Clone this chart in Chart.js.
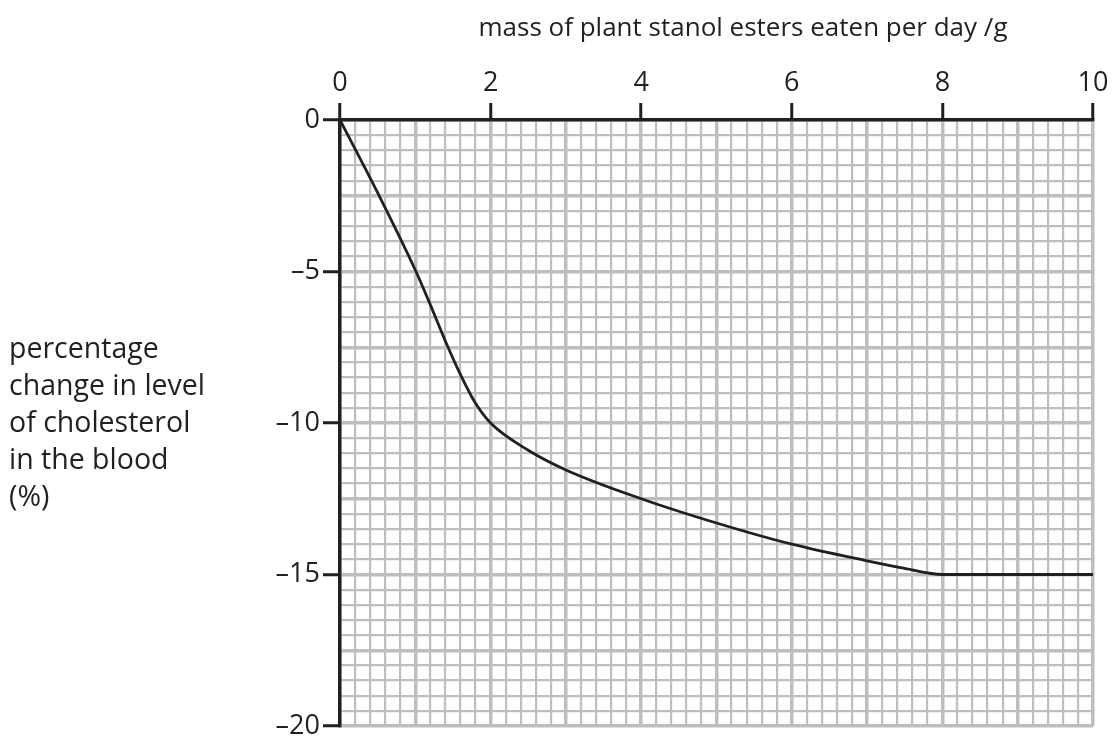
<!DOCTYPE html>
<html>
<head>
<meta charset="utf-8">
<script src="https://cdn.jsdelivr.net/npm/chart.js@4"></script>
<style>
  body { margin: 0; background: #fff; }
  #wrap { width: 1112px; height: 736px; }
</style>
</head>
<body>
<div id="wrap"><canvas id="chart" width="1112" height="736"></canvas></div>
<script>
// data
const massEaten = [0, 0.5, 1, 1.2, 1.4, 1.6, 1.8, 2, 2.5, 3, 4, 5, 6, 7, 7.5, 8, 9, 10];
const cholesterolChange = [0, -2.4, -4.95, -6.1, -7.3, -8.4, -9.35, -10, -10.9, -11.55, -12.5, -13.3, -14, -14.55, -14.8, -15, -15, -15];

const xTickLabels = [0, 2, 4, 6, 8, 10];
const yTickLabels = [0, -5, -10, -15, -20];

const xTitle = 'mass of plant stanol esters eaten per day /g';
const yTitle = ['percentage', 'change in level', 'of cholesterol', 'in the blood', '(%)'];

const FONT = '"Open Sans", "Noto Sans", sans-serif';
const INK = '#231f20';
const GRID = '#bcbec0';

// graph paper lines: every 0.2 across, every 0.5 down
function gridTicks(min, max, step) {
  let out = [];
  let n = Math.round((max - min) / step);
  for (let i = 0; i <= n; i++) out.push({ value: +(min + i * step).toFixed(2) });
  return out;
}

function isMajor(v, every) {
  return Math.abs(v / every - Math.round(v / every)) < 1e-6;
}

function fmt(v) {
  return v < 0 ? '\u2013' + Math.abs(v) : String(v);
}

const titlesPlugin = {
  id: 'titles',
  afterDraw(chart) {
    let ctx = chart.ctx;
    ctx.save();
    ctx.fillStyle = INK;
    ctx.textBaseline = 'middle';
    ctx.font = '26px ' + FONT;
    ctx.textAlign = 'center';
    ctx.fillText(xTitle, 743, 29);
    ctx.font = '28.5px ' + FONT;
    ctx.textAlign = 'left';
    yTitle.forEach((line, i) => ctx.fillText(line, 9, 350 + i * 37));
    ctx.restore();
  }
};

let ctx = document.getElementById('chart').getContext('2d');
new Chart(ctx, {
  type: 'line',
  data: {
    datasets: [{
      data: massEaten.map((x, i) => ({ x: x, y: cholesterolChange[i] })),
      borderColor: INK,
      borderWidth: 2.8,
      pointRadius: 0,
      cubicInterpolationMode: 'monotone',
      fill: false
    }]
  },
  plugins: [titlesPlugin],
  options: {
    responsive: false,
    animation: false,
    layout: { padding: { left: 0, top: 0, right: 19, bottom: 10 } },
    plugins: {
      legend: { display: false },
      tooltip: { enabled: false }
    },
    scales: {
      x: {
        type: 'linear',
        position: 'top',
        min: 0,
        max: 10,
        afterBuildTicks: axis => { axis.ticks = gridTicks(0, 10, 0.2); },
        afterFit: scale => {
          scale.height = 120;
          scale.paddingLeft = 0;
          scale.paddingRight = 0;
        },
        ticks: {
          autoSkip: false,
          maxRotation: 0,
          color: INK,
          font: { size: 27, family: FONT },
          padding: 3,
          callback: v => xTickLabels.some(t => Math.abs(t - v) < 1e-6) ? fmt(Math.round(v)) : ''
        },
        grid: {
          color: GRID,
          lineWidth: c => isMajor(c.tick.value, 1) ? 3.5 : 2.2,
          drawTicks: true,
          tickLength: 17,
          tickWidth: 3,
          tickColor: c => xTickLabels.some(t => Math.abs(t - c.tick.value) < 1e-6) ? INK : 'rgba(0,0,0,0)'
        },
        border: { display: true, color: INK, width: 3.5 }
      },
      y: {
        type: 'linear',
        min: -20,
        max: 0,
        afterBuildTicks: axis => { axis.ticks = gridTicks(-20, 0, 0.5); },
        afterFit: scale => {
          scale.width = 340;
          scale.paddingTop = 0;
          scale.paddingBottom = 0;
        },
        ticks: {
          autoSkip: false,
          color: INK,
          font: { size: 27, family: FONT },
          padding: 3,
          callback: v => yTickLabels.some(t => Math.abs(t - v) < 1e-6) ? fmt(Math.round(v)) : ''
        },
        grid: {
          color: GRID,
          lineWidth: c => isMajor(c.tick.value, 2.5) ? 3.5 : 2.2,
          drawTicks: true,
          tickLength: 17,
          tickWidth: 3,
          tickColor: c => yTickLabels.some(t => Math.abs(t - c.tick.value) < 1e-6) ? INK : 'rgba(0,0,0,0)'
        },
        border: { display: true, color: INK, width: 3.5 }
      }
    }
  }
});
</script>
</body>
</html>
